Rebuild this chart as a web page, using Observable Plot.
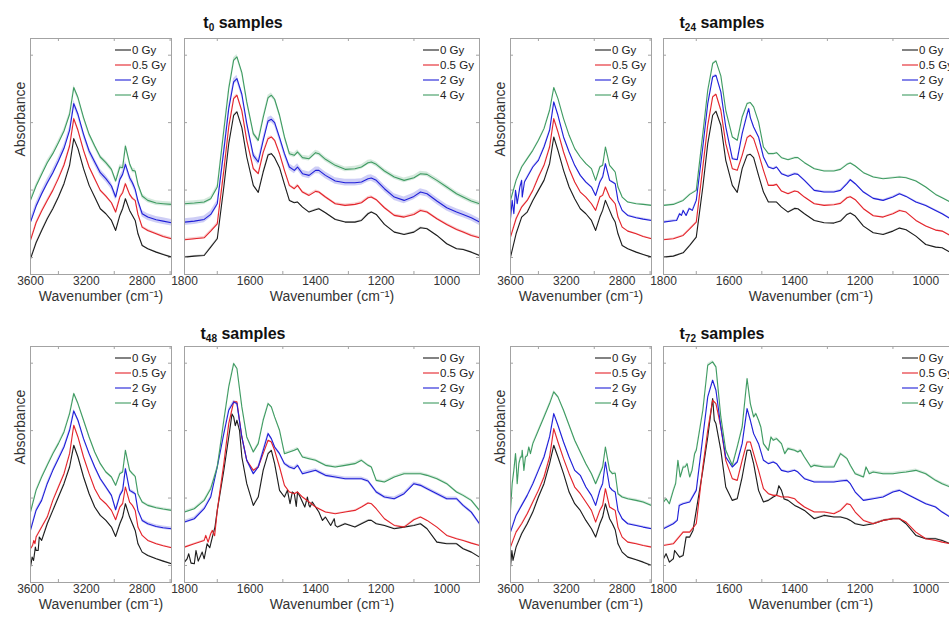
<!DOCTYPE html>
<html><head><meta charset="utf-8">
<script src="https://cdn.jsdelivr.net/npm/d3@7"></script>
<script src="https://cdn.jsdelivr.net/npm/@observablehq/plot@0.6"></script>
<style>
body{margin:0;background:#fff;}
#fig{position:relative;width:949px;height:617px;overflow:hidden;font-family:"Liberation Sans",Arial,sans-serif;background:#fff;}
.title{position:absolute;width:220px;text-align:center;font-weight:bold;font-size:16px;color:#111;line-height:18px;}
.title sub{font-size:10px;vertical-align:-3px;line-height:0;}
.panel{position:absolute;}
.panel svg{max-width:none !important;}
</style></head><body><div id="fig"></div>
<script>
// ---------------- data ----------------
const doses = ["0 Gy", "0.5 Gy", "2 Gy", "4 Gy"];
const colors = ["#1c1c1c", "#e3242b", "#1f1fd8", "#3f9b62"];
const times = ["0", "24", "48", "72"];

// wavenumber grids (cm-1)
const wnHigh = [3600,3560,3520,3480,3440,3400,3360,3320,3290,3260,3220,3180,3140,3100,3060,3020,2990,2960,2940,2920,2890,2870,2850,2830,2800,2760,2700,2650,2590];
const wnLow = [1800,1770,1740,1720,1700,1680,1665,1650,1640,1625,1610,1590,1575,1560,1545,1535,1525,1510,1495,1480,1465,1455,1440,1420,1400,1390,1370,1340,1310,1280,1260,1240,1230,1215,1190,1160,1130,1100,1080,1060,1030,1000,970,950,925,900];

// absorbance (arbitrary units, offset-stacked spectra)
const t0H_0  = [47,95,132,167,197,232,272,327,407,377,317,267,232,197,182,162,132,177,197,227,192,177,162,122,87,77,67,60,52];
const t0H_05 = [102,155,190,222,252,288,328,385,467,432,372,322,287,252,235,215,187,232,245,272,240,228,222,180,142,132,122,114,107];
const t0H_2  = [157,205,242,275,305,340,378,432,512,480,420,370,337,305,287,265,232,285,300,330,290,275,255,220,182,172,164,160,155];
const t0H_4  = [222,265,300,335,362,395,430,480,560,530,470,420,385,352,335,315,280,322,320,385,332,312,310,270,235,222,214,212,210];

const t0L_0  = [52,55,57,82,107,262,392,477,487,440,352,267,246,307,358,362,350,320,270,222,215,217,202,187,194,197,185,165,157,157,162,182,187,180,150,127,120,127,140,137,117,92,77,75,67,57];
const t0L_05 = [104,107,110,130,152,312,442,527,537,490,402,317,302,365,407,412,402,362,312,267,257,267,247,237,249,247,232,212,207,210,215,230,232,224,200,177,172,180,192,187,167,150,135,127,117,110];
const t0L_2  = [157,160,165,180,212,372,497,577,587,540,452,357,337,401,460,465,455,410,362,322,312,322,302,297,312,312,297,280,275,275,277,287,289,282,257,232,222,234,247,242,220,200,187,180,170,157];
const t0L_4  = [212,214,217,227,262,432,557,642,652,605,517,422,402,470,530,537,525,477,412,362,357,367,350,347,365,362,345,327,315,317,322,335,337,330,310,292,282,290,302,300,282,262,242,232,220,212];

const t24H_0  = [52,122,172,187,222,252,282,332,412,372,312,262,227,197,182,162,132,172,192,222,192,172,157,122,87,77,67,60,52];
const t24H_05 = [112,167,202,222,252,292,327,382,467,427,367,317,277,247,232,212,192,232,237,262,232,222,212,172,142,130,122,114,107];
const t24H_2  = [167,242,282,292,322,342,382,432,517,477,412,367,327,297,277,262,237,277,292,332,282,277,272,222,192,177,170,166,162];
const t24H_4  = [222,282,322,347,372,402,437,492,560,527,467,417,377,352,332,317,282,322,327,382,327,317,307,262,232,217,212,210,207];

const t24L_0  = [52,55,65,87,112,262,392,477,489,447,342,267,246,317,357,360,350,297,247,217,217,217,202,187,198,197,182,162,155,154,160,180,184,175,145,125,120,130,139,134,115,90,82,80,66,60];
const t24L_05 = [104,107,117,137,157,322,447,532,540,492,392,317,312,357,410,417,407,362,312,267,267,270,250,242,250,248,232,212,207,209,213,230,233,224,197,176,172,182,192,187,162,145,133,130,117,112];
const t24L_2  = [157,161,192,197,222,382,512,592,597,547,442,347,344,422,480,470,442,412,352,322,317,322,302,294,302,300,282,252,247,247,252,272,284,272,247,228,222,232,242,234,217,207,192,182,167,160];
const t24L_4  = [207,210,222,240,252,422,552,632,640,595,492,412,402,472,512,515,502,457,382,362,362,365,350,344,350,350,335,317,310,310,315,330,334,325,305,292,287,290,292,290,280,262,240,230,217,210];

const t48H_0  = [46,96,126,176,216,256,296,346,411,376,316,266,226,201,186,166,138,176,196,236,196,176,156,116,91,81,71,64,56];
const t48H_05 = [101,136,166,196,246,286,326,386,471,436,376,326,281,251,236,216,188,226,236,286,241,231,216,166,141,126,116,110,104];
const t48H_2  = [156,216,246,296,336,371,406,456,514,486,431,386,346,311,286,261,218,261,276,341,276,271,266,216,186,176,168,164,161];
const t48H_4  = [211,276,316,351,386,416,451,506,566,536,486,436,391,356,331,316,291,326,331,396,336,326,318,266,241,231,224,220,216];

const t48L_0  = [61,56,71,116,216,336,436,496,486,376,296,231,256,336,386,396,356,276,256,246,266,271,241,231,226,211,196,171,176,166,176,186,186,176,171,161,166,171,176,161,121,116,116,101,91,76];
const t48L_05 = [106,116,126,146,216,356,476,541,541,436,366,336,346,386,426,421,396,346,291,271,266,271,256,241,226,221,211,206,211,216,226,238,236,221,191,171,166,188,196,186,166,141,131,126,118,111];
const t48L_2  = [181,191,221,256,346,446,516,541,536,436,366,326,346,396,446,431,406,386,356,346,341,351,326,331,336,331,321,316,311,311,311,304,291,271,256,251,266,296,291,281,266,251,251,231,211,176];
const t48L_4  = [211,221,246,281,346,486,586,656,641,526,436,391,416,486,536,526,496,456,386,391,396,401,376,371,366,361,351,346,351,356,366,351,346,306,301,316,326,326,326,321,311,296,271,261,246,216];

const t72H_0  = [46,106,146,176,211,256,296,356,411,376,326,271,236,216,186,161,136,176,196,236,191,176,158,116,91,76,68,61,51];
const t72H_05 = [106,151,176,206,241,276,316,376,461,421,371,326,286,266,241,216,181,216,231,281,226,221,216,166,136,121,116,111,106];
const t72H_2  = [151,201,231,261,296,336,376,436,506,471,421,376,336,321,286,261,231,276,296,361,286,276,271,216,191,176,171,166,161];
const t72H_4  = [216,366,376,380,416,456,496,536,571,556,516,471,426,391,356,326,296,326,346,406,336,326,328,266,256,251,246,241,231];

const t72L_0  = [71,71,81,136,216,336,436,551,476,396,286,246,251,316,396,396,356,276,241,246,256,261,276,246,231,226,216,191,201,196,196,191,186,176,171,176,186,191,191,176,141,131,131,126,116,111];
const t72L_05 = [111,116,151,151,176,346,456,546,536,466,366,311,306,366,421,421,386,336,281,266,261,261,256,256,251,241,226,211,211,206,216,236,233,211,186,176,186,191,191,181,151,131,126,121,116,111];
const t72L_2  = [161,176,236,241,276,436,556,606,576,466,376,346,361,416,521,486,446,416,366,356,361,356,336,331,336,331,311,301,301,301,304,306,296,271,246,251,256,271,276,266,251,236,226,211,196,186];
const t72L_4  = [241,276,346,316,396,516,651,661,646,496,396,351,406,466,611,536,496,486,416,396,426,431,416,401,396,391,376,351,346,346,386,371,351,326,316,331,326,326,329,331,336,326,306,296,286,276];

// extra [wavenumber, absorbance] readings for the noisy stretches
const t24H_2_noise = [[3588,222],[3576,182],[3564,252],[3552,212],[3533,262],[3516,232],[3500,277]];
const t48H_0_noise = [[3588,76],[3578,66],[3565,106],[3545,96],[3537,136]];
const t48H_05_noise = [[3585,111],[3576,126],[3568,116]];
const t72H_0_noise = [[3590,96],[3582,66]];
const t72H_4_noise = [[3588,296],[3576,336],[3564,386],[3552,296],[3540,356],[3528,376],[3516,396],[3504,336],[3493,376],[3469,406],[3457,386]];
const t24L_2_noise = [[1760,162],[1751,182],[1745,177],[1731,177],[1722,197],[1712,192],[1540,497]];
const t48L_0_noise = [[1792,71],[1787,86],[1780,58],[1765,96],[1758,64],[1746,91],[1731,116],[1723,104],[1715,136],[1707,166],[1655,505],[1645,470],[1632,455],[1486,276],[1478,236],[1471,271],[1459,228],[1447,256],[1433,226],[1425,256],[1417,226],[1410,241],[1379,186],[1354,171],[1343,191],[1333,166]];
const t48L_05_noise = [[1735,141],[1728,121],[1715,156],[1708,140]];
const t72L_0_noise = [[1792,86],[1782,61],[1766,96],[1751,76],[1731,136],[1710,156],[1645,486],[1448,290],[1432,250]];
const t72L_2_noise = [[1758,186],[1752,231]];
const t72L_4_noise = [[1792,251],[1782,236],[1763,296],[1756,366],[1749,316],[1734,346],[1728,356],[1713,336],[1705,386],[1518,506],[1503,466],[1472,436],[1430,386],[1382,396],[1350,346],[1182,346],[1172,326]];

// standard-deviation half widths (shaded bands), per dose
const t0Spread  = [2, 4, 10, 7];
const t24Spread = [1, 2, 3, 2];
const t48Spread = [2, 2, 5, 4];
const t72Spread = [2, 2, 3, 4];

// axis tick values
const highLabels = [3600, 3200, 2800];
const highMarks = [3400, 3000, 2600];
const lowLabels = [1800, 1600, 1400, 1200, 1000];
const lowMarks = [1700, 1500, 1300, 1100];
const yTicks = [51, 253, 455, 657];
const yDomain = [0, 707];

// ---------------- layout ----------------
const M = {l: 30, r: 30, t: 10, b: 45};
const FH = 236;
const FONT = '"Liberation Sans", Arial, sans-serif';
const GRID = "#a3a3a3";
const fig = document.getElementById("fig");

function makePanel(cfg) {
  const {wn, series, noise, xDomain, xLabels, xMarks, frameLeft, frameTop, frameW, spread, yLabel} = cfg;
  const data = [];
  series.forEach((vals, k) => {
    const pts = vals.map((v, i) => [wn[i], v]).concat(noise[k] || []);
    pts.sort((a, b) => b[0] - a[0]);
    pts.forEach(([w, v]) => data.push({wn: w, a: v, dose: doses[k], s: spread[k]}));
  });
  const tx = Math.abs(xDomain[1] - xDomain[0]) * 3 / frameW;
  const ty = (yDomain[1] - yDomain[0]) * 3 / FH;
  const dir = Math.sign(xDomain[1] - xDomain[0]);
  const W = frameW + M.l + M.r, H = FH + M.t + M.b;
  const marks = [
    Plot.areaY(data, {x: "wn", y1: d => d.a - d.s, y2: d => d.a + d.s, z: "dose", fill: "dose", fillOpacity: 0.22}),
    Plot.lineY(data, {x: "wn", y: "a", z: "dose", stroke: "dose", strokeWidth: 1.1}),
    Plot.frame({stroke: GRID}),
    Plot.ruleX(xMarks, {x: d => d, y1: yDomain[0], y2: yDomain[0] + ty, stroke: GRID}),
    Plot.ruleX(xMarks, {x: d => d, y1: yDomain[1] - ty, y2: yDomain[1], stroke: GRID}),
    Plot.ruleY(yTicks, {y: d => d, x1: xDomain[0], x2: xDomain[0] + dir * tx, stroke: GRID}),
    Plot.ruleY(yTicks, {y: d => d, x1: xDomain[1] - dir * tx, x2: xDomain[1], stroke: GRID}),
    Plot.axisX({ticks: xLabels, tickSize: 0, tickPadding: 2, tickFormat: d => String(d), label: null, fontSize: 12}),
    Plot.text(["Wavenumber (cm\u207B\u00B9)"], {frameAnchor: "bottom", dy: 26, fontSize: 14, fill: "#333"})
  ];
  if (yLabel) marks.push(Plot.text(["Absorbance"], {frameAnchor: "left", rotate: -90, dx: -10, fontSize: 14, fill: "#333"}));
  const svg = Plot.plot({
    width: W,
    height: H,
    marginLeft: M.l, marginRight: M.r, marginTop: M.t, marginBottom: M.b,
    x: {domain: xDomain},
    y: {domain: yDomain, axis: null},
    color: {domain: doses, range: colors},
    style: {fontFamily: FONT, fontSize: "12px", color: "#333", background: "transparent", overflow: "visible"},
    marks
  });
  svg.style.maxWidth = "none";
  // legend (top-right inside the frame)
  const g = d3.select(svg).append("g").attr("font-family", FONT).attr("font-size", 11.5).attr("text-anchor", "start");
  doses.forEach((d, i) => {
    const y = M.t + 12 + 15 * i;
    const x0 = M.l + frameW - 56;
    g.append("line").attr("x1", x0).attr("x2", x0 + 16).attr("y1", y).attr("y2", y)
      .attr("stroke", colors[i]).attr("stroke-width", 1.1);
    g.append("text").attr("x", x0 + 17).attr("y", y).attr("dy", "0.35em").attr("fill", "#222")
      .attr("text-anchor", "start").text(d);
  });
  const wrap = document.createElement("div");
  wrap.className = "panel";
  wrap.style.left = (frameLeft - M.l) + "px";
  wrap.style.top = (frameTop - M.t) + "px";
  wrap.style.width = W + "px";
  wrap.style.height = H + "px";
  wrap.appendChild(svg);
  fig.appendChild(wrap);
}

const groups = [
  {t: 0, high: [t0H_0, t0H_05, t0H_2, t0H_4], highNoise: [], low: [t0L_0, t0L_05, t0L_2, t0L_4], lowNoise: [],
   spread: t0Spread, col: 0, row: 0},
  {t: 1, high: [t24H_0, t24H_05, t24H_2, t24H_4], highNoise: [null, null, t24H_2_noise, null],
   low: [t24L_0, t24L_05, t24L_2, t24L_4], lowNoise: [null, null, t24L_2_noise, null], spread: t24Spread, col: 1, row: 0},
  {t: 2, high: [t48H_0, t48H_05, t48H_2, t48H_4], highNoise: [t48H_0_noise, t48H_05_noise, null, null],
   low: [t48L_0, t48L_05, t48L_2, t48L_4], lowNoise: [t48L_0_noise, t48L_05_noise, null, null], spread: t48Spread, col: 0, row: 1},
  {t: 3, high: [t72H_0, t72H_05, t72H_2, t72H_4], highNoise: [t72H_0_noise, null, null, t72H_4_noise],
   low: [t72L_0, t72L_05, t72L_2, t72L_4], lowNoise: [t72L_0_noise, null, t72L_2_noise, t72L_4_noise], spread: t72Spread, col: 1, row: 1}
];
const colX = [{narrow: 30, wide: 184, title: 243}, {narrow: 510, wide: 663, title: 722}];
const rowY = [{frame: 38, title: 14}, {frame: 346, title: 325}];

groups.forEach(gr => {
  const cx = colX[gr.col], ry = rowY[gr.row];
  makePanel({wn: wnHigh, series: gr.high, noise: gr.highNoise, xDomain: [3600, 2590], xLabels: highLabels, xMarks: highMarks,
    frameLeft: cx.narrow, frameTop: ry.frame, frameW: 141, spread: gr.spread, yLabel: true});
  makePanel({wn: wnLow, series: gr.low, noise: gr.lowNoise, xDomain: [1800, 900], xLabels: lowLabels, xMarks: lowMarks,
    frameLeft: cx.wide, frameTop: ry.frame, frameW: 295, spread: gr.spread, yLabel: false});
  const title = document.createElement("div");
  title.className = "title";
  title.style.left = (cx.title - 110) + "px";
  title.style.top = ry.title + "px";
  title.innerHTML = "t<sub>" + times[gr.t] + "</sub> samples";
  fig.appendChild(title);
});
</script>
</body></html>
